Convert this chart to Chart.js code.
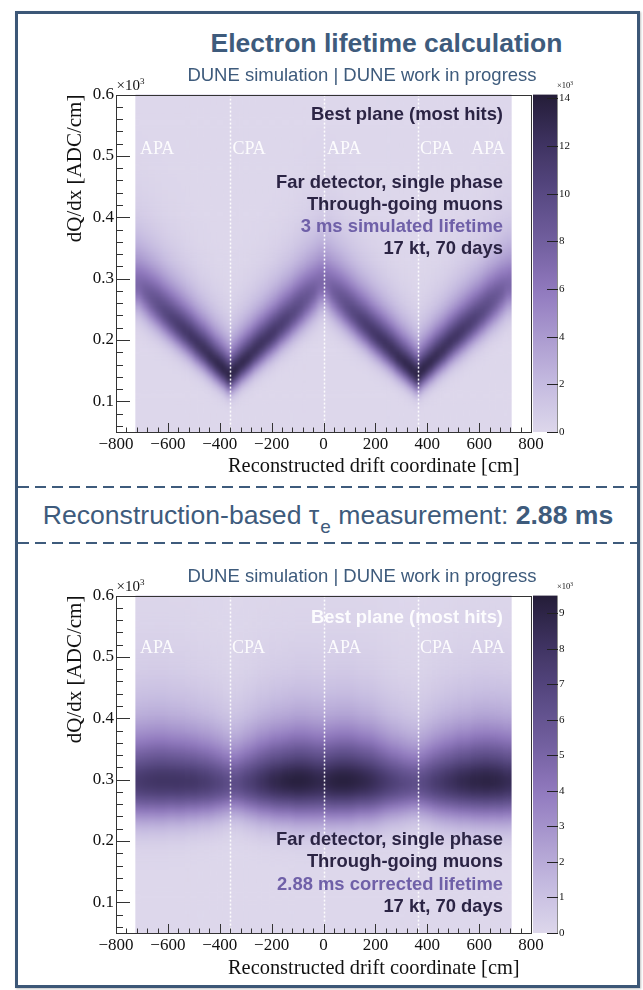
<!DOCTYPE html>
<html><head><meta charset="utf-8">
<script src="https://cdn.jsdelivr.net/npm/chart.js@4.4.1/dist/chart.umd.min.js"></script>
<style>
html,body{margin:0;padding:0;background:#fff;}
body{width:643px;height:990px;position:relative;overflow:hidden;font-family:"Liberation Sans",Arial,sans-serif;}
.frame{position:absolute;left:15px;top:11px;width:619px;height:971px;border:3px solid #3c5777;box-shadow:1px 1px 2px rgba(0,0,0,.25);}
.t{position:absolute;white-space:nowrap;line-height:1;}
.sans{font-family:"Liberation Sans",Arial,sans-serif;}
.serif{font-family:"Liberation Serif","Times New Roman",serif;}
.ctr{width:800px;text-align:center;}
.ann{right:140px;text-align:right;font-weight:bold;font-size:18.4px;color:#2b2444;}
.lbl{font-family:"Liberation Serif",serif;font-size:18px;color:rgba(255,255,255,0.9);}
canvas{position:absolute;}
.dash{position:absolute;left:18px;width:619px;height:2px;background:repeating-linear-gradient(to right,#3e5b7c 0 11px,transparent 11px 17px);}
</style>
</head>
<body>
<div class="frame"></div>
<canvas id="topChart" width="600" height="420" style="left:20px;top:60px;width:600px;height:420px"></canvas>
<canvas id="bottomChart" width="600" height="420" style="left:20px;top:561px;width:600px;height:420px"></canvas>

<div class="t sans ctr" style="left:-13.5px;top:29.6px;font-size:26.5px;font-weight:bold;color:#3e5b7c">Electron lifetime calculation</div>
<div class="t sans ctr" style="left:-38px;top:66.3px;font-size:18.5px;color:#3e5b7c">DUNE simulation | DUNE work in progress</div>

<div class="t serif" style="left:116.5px;top:78px;font-size:15px;color:#111">×10<span style="font-size:9px;position:relative;top:-6px">3</span></div>
<div class="t serif" style="left:557px;top:81.4px;font-size:8.5px;color:#111">×10<span style="font-size:5.5px;position:relative;top:-3.5px">3</span></div>

<div class="t ann" style="top:104.7px">Best plane (most hits)</div>
<div class="t lbl" style="left:140px;top:139.2px">APA</div>
<div class="t lbl" style="left:232.5px;top:139.2px">CPA</div>
<div class="t lbl" style="left:327px;top:139.2px">APA</div>
<div class="t lbl" style="left:420px;top:139.2px">CPA</div>
<div class="t lbl" style="left:471px;top:139.2px">APA</div>
<div class="t ann" style="top:172.5px">Far detector, single phase</div>
<div class="t ann" style="top:194.5px">Through-going muons</div>
<div class="t ann" style="top:216.5px;color:#6f60a8">3 ms simulated lifetime</div>
<div class="t ann" style="top:238.5px">17 kt, 70 days</div>
<div class="t serif" style="left:228px;top:454.9px;font-size:20.4px;color:#111">Reconstructed drift coordinate [cm]</div>

<div class="dash" style="top:486px"></div>
<div class="t sans ctr" style="left:-72px;top:501.5px;font-size:26.6px;color:#3e5b7c">Reconstruction-based τ<span style="font-size:19px;position:relative;top:9px;margin-left:1px">e</span> measurement: <b>2.88 ms</b></div>
<div class="dash" style="top:542px"></div>

<div class="t sans ctr" style="left:-38px;top:567.3px;font-size:18.5px;color:#3e5b7c">DUNE simulation | DUNE work in progress</div>
<div class="t serif" style="left:116.5px;top:579px;font-size:15px;color:#111">×10<span style="font-size:9px;position:relative;top:-6px">3</span></div>
<div class="t serif" style="left:557px;top:582.4px;font-size:8.5px;color:#111">×10<span style="font-size:5.5px;position:relative;top:-3.5px">3</span></div>

<div class="t ann" style="top:607.5px;color:rgba(255,255,255,0.92)">Best plane (most hits)</div>
<div class="t lbl" style="left:140px;top:638.2px">APA</div>
<div class="t lbl" style="left:232px;top:638.2px">CPA</div>
<div class="t lbl" style="left:327px;top:638.2px">APA</div>
<div class="t lbl" style="left:420px;top:638.2px">CPA</div>
<div class="t lbl" style="left:470.5px;top:638.2px">APA</div>
<div class="t ann" style="top:830px">Far detector, single phase</div>
<div class="t ann" style="top:852px">Through-going muons</div>
<div class="t ann" style="top:874.5px;color:#6f60a8">2.88 ms corrected lifetime</div>
<div class="t ann" style="top:897px">17 kt, 70 days</div>
<div class="t serif" style="left:228px;top:956.9px;font-size:20.4px;color:#111">Reconstructed drift coordinate [cm]</div>

<script>
// ---------- data ----------
// x bin centres [cm], 25 cm bins spanning the active volume -725..725
const driftBins = [-712.5,-687.5,-662.5,-637.5,-612.5,-587.5,-562.5,-537.5,-512.5,-487.5,-462.5,-437.5,-412.5,-387.5,-362.5,
  -337.5,-312.5,-287.5,-262.5,-237.5,-212.5,-187.5,-162.5,-137.5,-112.5,-87.5,-62.5,-37.5,-12.5,
  12.5,37.5,62.5,87.5,112.5,137.5,162.5,187.5,212.5,237.5,262.5,287.5,312.5,337.5,
  362.5,387.5,412.5,437.5,462.5,487.5,512.5,537.5,562.5,587.5,612.5,637.5,662.5,687.5,712.5];

// Top panel (3 ms simulated lifetime): most probable dQ/dx [x10^3 ADC/cm], peak bin content [x10^3], width [x10^3 ADC/cm]
const topMpv = [0.290,0.279,0.268,0.258,0.247,0.237,0.227,0.217,0.207,0.196,0.186,0.175,0.164,0.154,0.143,
  0.153,0.164,0.174,0.185,0.195,0.205,0.215,0.226,0.236,0.247,0.258,0.269,0.280,0.293,
  0.293,0.280,0.269,0.258,0.247,0.236,0.226,0.215,0.205,0.195,0.185,0.174,0.164,0.154,
  0.144,0.155,0.165,0.176,0.186,0.197,0.207,0.217,0.227,0.237,0.247,0.258,0.268,0.279,0.290];
const topPeak = [7.3,8.2,9.0,9.7,10.3,10.8,11.3,11.7,12.1,12.4,12.7,13.0,13.3,13.6,13.9,
  13.6,13.3,13.0,12.7,12.4,12.1,11.7,11.3,10.8,10.3,9.7,9.0,8.2,7.3,
  7.3,8.2,9.0,9.7,10.3,10.8,11.3,11.7,12.1,12.4,12.7,13.0,13.3,13.6,
  13.9,13.6,13.3,13.0,12.7,12.4,12.1,11.7,11.3,10.8,10.3,9.7,9.0,8.2,7.3];
const topWidth = [0.0220,0.0215,0.0210,0.0203,0.0196,0.0190,0.0185,0.0180,0.0174,0.0169,0.0164,0.0159,0.0153,0.0147,0.0140,
  0.0147,0.0153,0.0159,0.0164,0.0169,0.0174,0.0180,0.0185,0.0190,0.0196,0.0203,0.0210,0.0215,0.0220,
  0.0220,0.0215,0.0210,0.0203,0.0196,0.0190,0.0185,0.0180,0.0174,0.0169,0.0164,0.0159,0.0153,0.0147,
  0.0140,0.0147,0.0153,0.0159,0.0164,0.0169,0.0174,0.0180,0.0185,0.0190,0.0196,0.0203,0.0210,0.0215,0.0220];

// Bottom panel (2.88 ms corrected lifetime)
const botMpv = [0.298,0.298,0.299,0.299,0.299,0.299,0.298,0.298,0.298,0.297,0.297,0.296,0.296,0.295,0.295,
  0.295,0.296,0.296,0.297,0.297,0.298,0.298,0.298,0.299,0.299,0.299,0.299,0.298,0.298,
  0.298,0.298,0.299,0.299,0.299,0.299,0.298,0.298,0.297,0.297,0.296,0.296,0.295,0.295,
  0.295,0.295,0.296,0.296,0.297,0.297,0.298,0.298,0.298,0.299,0.299,0.299,0.299,0.298,0.298];
const botPeak = [7.6,7.8,7.9,8.0,8.0,8.0,8.0,7.9,7.9,7.8,7.6,7.4,7.1,6.8,6.5,
  6.5,6.9,7.3,7.7,8.1,8.5,8.8,9.0,9.2,9.3,9.3,9.2,9.0,8.8,
  8.9,9.2,9.3,9.3,9.2,9.0,8.8,8.5,8.1,7.7,7.3,7.0,6.7,6.5,
  6.4,6.8,7.2,7.6,7.9,8.2,8.5,8.7,8.9,9.0,9.1,9.1,9.0,8.8,8.5];
const botWidth = [0.029,0.029,0.029,0.029,0.029,0.028,0.028,0.028,0.027,0.027,0.026,0.026,0.025,0.024,0.023,
  0.023,0.024,0.025,0.026,0.027,0.027,0.028,0.028,0.028,0.029,0.029,0.029,0.029,0.029,
  0.029,0.029,0.029,0.029,0.029,0.028,0.028,0.028,0.027,0.026,0.025,0.025,0.024,0.023,
  0.023,0.024,0.025,0.026,0.027,0.027,0.028,0.028,0.028,0.029,0.029,0.029,0.029,0.029,0.029];

// axes / tick labels
const xTickValues = [-800,-600,-400,-200,0,200,400,600,800];
const yTickValues = [0.1,0.2,0.3,0.4,0.5,0.6];
const zTicksTop = [0,2,4,6,8,10,12,14];
const zTicksBottom = [0,1,2,3,4,5,6,7,8,9];
const zMaxTop = 14.16, zMaxBottom = 9.5;
const planeBoundaries = [-360, 0, 363];
const activeRange = [-725, 725];

// ---------- rendering ----------
const BIN_DX = 25, BIN_DY = 0.005, Y_MIN = 0.05, Y_MAX = 0.6;
const NY = Math.round((Y_MAX - Y_MIN) / BIN_DY);

// Landau-like (Moyal) shape above the peak, gaussian edge below
function profile(l, lowEdge) {
  if (l >= 0) return Math.exp(-(l + Math.exp(-l) - 1) / 2);
  const u = l / lowEdge;
  return Math.exp(-0.5 * u * u);
}
function buildCells(mpv, peak, width, lowEdge) {
  const cells = [];
  for (let i = 0; i < driftBins.length; i++) {
    for (let k = 0; k < NY; k++) {
      const yc = Y_MIN + BIN_DY * (k + 0.5);
      cells.push({x: driftBins[i], y: yc, v: peak[i] * profile((yc - mpv[i]) / width[i], lowEdge)});
    }
  }
  return cells;
}

const paletteStops = [[0,221,215,235],[0.14,197,187,224],[0.28,171,155,208],[0.42,144,121,190],
  [0.56,114,95,159],[0.70,89,74,132],[0.85,63,51,98],[1,36,29,56]];
function paletteColor(f) {
  f = Math.max(0, Math.min(1, f));
  for (let i = 1; i < paletteStops.length; i++) {
    const b = paletteStops[i];
    if (f <= b[0]) {
      const a = paletteStops[i - 1];
      const t = (f - a[0]) / (b[0] - a[0]);
      return 'rgb(' + Math.round(a[1] + t * (b[1] - a[1])) + ',' + Math.round(a[2] + t * (b[2] - a[2])) + ',' + Math.round(a[3] + t * (b[3] - a[3])) + ')';
    }
  }
  const l = paletteStops[paletteStops.length - 1];
  return 'rgb(' + l[1] + ',' + l[2] + ',' + l[3] + ')';
}

const hist2dPlugin = {
  id: 'hist2d',
  beforeDatasetsDraw(chart) {
    const o = chart.options.plugins.hist2d;
    const {ctx, chartArea: ca, scales: {x, y}} = chart;
    const xl = x.getPixelForValue(activeRange[0]), xr = x.getPixelForValue(activeRange[1]);
    const off = document.createElement('canvas');
    off.width = chart.width; off.height = chart.height;
    const g = off.getContext('2d');
    for (const c of chart.data.datasets[0].data) {
      const lo = c.x - BIN_DX / 2, hi = c.x + BIN_DX / 2;
      let l = x.getPixelForValue(lo), r = x.getPixelForValue(hi);
      let t = y.getPixelForValue(c.y + BIN_DY / 2), b = y.getPixelForValue(c.y - BIN_DY / 2);
      if (lo <= activeRange[0] + 1e-6) l -= 12;
      if (hi >= activeRange[1] - 1e-6) r += 12;
      if (c.y + BIN_DY / 2 >= Y_MAX - 1e-9) t -= 12;
      if (c.y - BIN_DY / 2 <= Y_MIN + 1e-9) b += 12;
      g.fillStyle = paletteColor(c.v / o.zMax);
      g.fillRect(l, t, r - l + 0.6, b - t + 0.6);
    }
    ctx.save();
    ctx.beginPath(); ctx.rect(xl, ca.top, xr - xl, ca.bottom - ca.top); ctx.clip();
    ctx.fillStyle = paletteColor(0);
    ctx.fillRect(xl, ca.top, xr - xl, ca.bottom - ca.top);
    ctx.filter = 'blur(' + o.blur + 'px)';
    ctx.drawImage(off, 0, 0);
    ctx.filter = 'none';
    ctx.strokeStyle = 'rgba(255,255,255,0.95)';
    ctx.lineWidth = 1.5;
    ctx.setLineDash([2, 2]);
    for (const p of planeBoundaries) {
      const px = Math.round(x.getPixelForValue(p)) + 0.5;
      ctx.beginPath(); ctx.moveTo(px, ca.top); ctx.lineTo(px, ca.bottom); ctx.stroke();
    }
    ctx.restore();
  },
  afterDraw(chart) {
    const o = chart.options.plugins.hist2d;
    const {ctx, chartArea: ca, scales: {x, y, z}} = chart;
    ctx.save();
    // colour bar
    const bl = z.left + 2, br = z.left + 26;
    const grad = ctx.createLinearGradient(0, z.getPixelForValue(0), 0, z.getPixelForValue(o.zMax));
    for (let i = 0; i <= 20; i++) grad.addColorStop(i / 20, paletteColor(i / 20));
    ctx.fillStyle = grad;
    ctx.fillRect(bl, z.top, br - bl, z.bottom - z.top);
    ctx.strokeStyle = '#8c8c8c'; ctx.lineWidth = 1;
    ctx.beginPath(); ctx.moveTo(br + 0.5, z.top); ctx.lineTo(br + 0.5, z.bottom); ctx.stroke();
    ctx.strokeStyle = '#222';
    for (const v of o.zTicks) {
      const py = Math.round(z.getPixelForValue(v)) + 0.5;
      ctx.beginPath(); ctx.moveTo(br - 10, py); ctx.lineTo(br + 1, py); ctx.stroke();
    }
    // frame
    ctx.strokeStyle = '#333';
    ctx.strokeRect(Math.round(ca.left) + 0.5, Math.round(ca.top) + 0.5, Math.round(ca.right - ca.left), Math.round(ca.bottom - ca.top));
    // y ticks (inward)
    for (let k = 3; k <= 30; k++) {
      const v = k * 0.02;
      const major = k % 5 === 0;
      const py = Math.round(y.getPixelForValue(v)) + 0.5;
      ctx.beginPath(); ctx.moveTo(ca.left, py); ctx.lineTo(ca.left + (major ? 14 : 7), py); ctx.stroke();
    }
    // x ticks (inward)
    for (let k = -20; k <= 20; k++) {
      const v = k * 40;
      const major = k % 5 === 0;
      const px = Math.round(x.getPixelForValue(v)) + 0.5;
      ctx.beginPath(); ctx.moveTo(px, ca.bottom); ctx.lineTo(px, ca.bottom - (major ? 9 : 4.5)); ctx.stroke();
    }
    ctx.restore();
  }
};

function makeChart(id, cells, zMax, zTicks, blur) {
  return new Chart(document.getElementById(id), {
    type: 'scatter',
    data: {datasets: [{data: cells, pointRadius: 0, pointHoverRadius: 0, showLine: false}]},
    options: {
      responsive: false, animation: false, events: [],
      layout: {padding: {left: 36, right: 39, top: 31, bottom: 0}},
      plugins: {legend: {display: false}, tooltip: {enabled: false}, hist2d: {zMax: zMax, zTicks: zTicks, blur: blur}},
      scales: {
        x: {
          type: 'linear', position: 'bottom', min: -800, max: 800,
          afterBuildTicks: s => { s.ticks = xTickValues.map(v => ({value: v})); },
          afterFit: s => { s.height = 48; },
          grid: {display: false, drawTicks: false}, border: {display: false},
          ticks: {padding: 2, color: '#111', autoSkip: false, maxRotation: 0,
            font: {family: 'Liberation Serif', size: 17},
            callback: v => (v < 0 ? '\u2212' + Math.abs(v) : String(v))}
        },
        y: {
          type: 'linear', position: 'left', min: Y_MIN, max: Y_MAX,
          afterBuildTicks: s => { s.ticks = yTickValues.map(v => ({value: v})); },
          afterFit: s => { s.width = 60; },
          grid: {display: false, drawTicks: false}, border: {display: false},
          ticks: {padding: 2, color: '#111', font: {family: 'Liberation Serif', size: 17},
            callback: v => Number(v).toFixed(1)},
          title: {display: true, text: 'dQ/dx [ADC/cm]', align: 'end', color: '#111',
            font: {family: 'Liberation Serif', size: 21}, padding: {top: 7, bottom: 0}}
        },
        z: {
          type: 'linear', position: 'right', min: 0, max: zMax,
          afterBuildTicks: s => { s.ticks = zTicks.map(v => ({value: v})); },
          afterFit: s => { s.width = 50; },
          grid: {display: false, drawTicks: false}, border: {display: false},
          ticks: {padding: 28, color: '#111', font: {family: 'Liberation Serif', size: 11},
            callback: v => String(v)}
        }
      }
    },
    plugins: [hist2dPlugin]
  });
}

makeChart('topChart', buildCells(topMpv, topPeak, topWidth, 1.3), zMaxTop, zTicksTop, 2.8);
makeChart('bottomChart', buildCells(botMpv, botPeak, botWidth, 1.45), zMaxBottom, zTicksBottom, 3.2);
</script>
</body></html>
